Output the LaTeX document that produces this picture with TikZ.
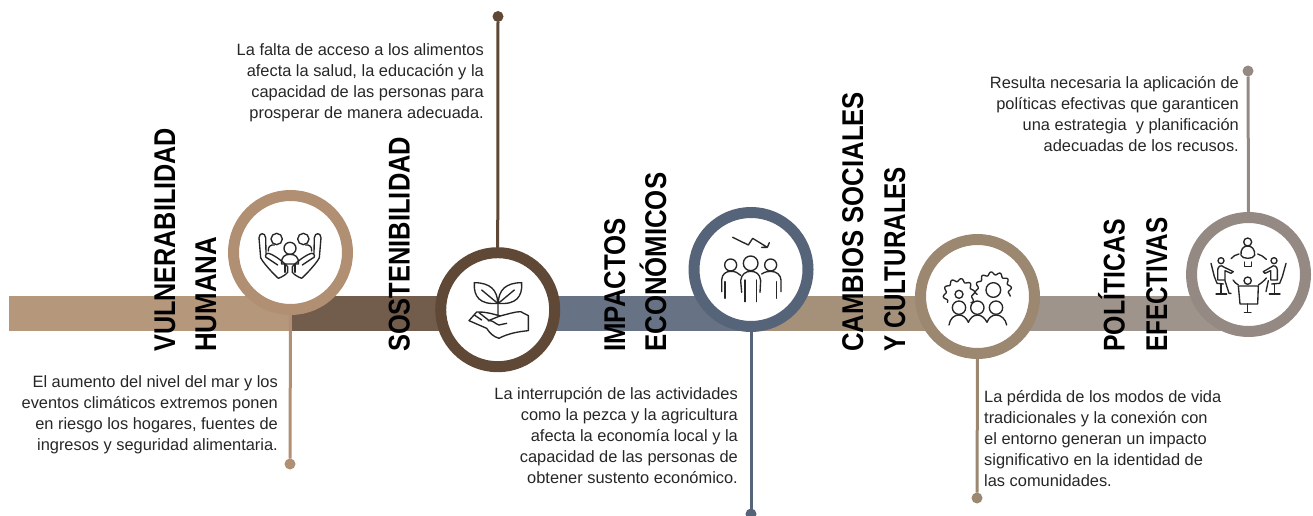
\documentclass[tikz,border=0pt]{standalone}
\usepackage{fontspec}
\setmainfont{Liberation Sans}
\newfontfamily\headf[FakeStretch=0.84]{Liberation Sans Bold}
\definecolor{ringa}{HTML}{B08F72}
\definecolor{ringb}{HTML}{5F4835}
\definecolor{ringc}{HTML}{56647A}
\definecolor{ringd}{HTML}{9C8770}
\definecolor{ringe}{HTML}{958A83}
\definecolor{banda}{HTML}{B5977C}
\definecolor{bandb}{HTML}{725D4C}
\definecolor{bandc}{HTML}{687285}
\definecolor{bandd}{HTML}{A59079}
\definecolor{bande}{HTML}{9F948C}
\definecolor{icon}{HTML}{262626}
\tikzset{
  ring/.style={circle,draw=#1,line width=11pt,fill=white,minimum size=114pt,inner sep=0pt,outer sep=0pt},
  enddot/.style={circle,fill=#1,minimum size=11pt,inner sep=0pt,outer sep=0pt},
  conn/.style={draw=#1,line width=3pt},
  bandseg/.style={fill=#1,draw=none},
  head/.style={rotate=90,anchor=base west,inner sep=0pt,font=\headf\fontsize{30}{30}\selectfont,text=black},
  bodyr/.style={align=right,anchor=north east,inner sep=0pt,font=\fontsize{16.4}{21}\selectfont,text=black!85},
  bodyl/.style={align=left,anchor=north west,inner sep=0pt,font=\fontsize{16.4}{21}\selectfont,text=black!85},
  ic/.style={draw=icon,line width=1.35pt,line cap=round,line join=round},
  icn/.style={x=0.3333pt,y=-0.3333pt},
}
\begin{document}
\begin{tikzpicture}[x=1pt,y=-1pt]
\useasboundingbox (0,0) rectangle (1313,516);
% bands
\fill[bandseg=banda] (8.5,296) rectangle (290,331);
\fill[bandseg=bandb] (290,296) rectangle (498,331);
\fill[bandseg=bandc] (498,296) rectangle (751,331);
\fill[bandseg=bandd] (751,296) rectangle (977,331);
\fill[bandseg=bande] (977,296) rectangle (1248,331);
% headings
\node[head] (h1a) at (175,352) {VULNERABILIDAD};
\node[head] (h1b) at (216,352) {\scalebox{1.027}[1]{HUMANA}};
\node[head] (h2a) at (409.5,352) {\scalebox{1.01}[1]{SOSTENIBILIDAD}};
\node[head] (h3a) at (625,352) {\scalebox{1.023}[1]{IMPACTOS}};
\node[head] (h3b) at (666,352) {\scalebox{1.023}[1]{ECONÓMICOS}};
\node[head] (h4a) at (863,352) {\scalebox{1.02}[1]{CAMBIOS SOCIALES}};
\node[head] (h4b) at (905,352) {\scalebox{0.959}[1]{Y CULTURALES}};
\node[head] (h5a) at (1124.5,352) {\scalebox{0.985}[1]{POLÍTICAS}};
\node[head] (h5b) at (1167,352) {\scalebox{0.964}[1]{EFECTIVAS}};
% rings
\node[ring=ringa] (c1) at (290.5,252.5) {};
\node[ring=ringb] (c2) at (497.7,309.7) {};
\node[ring=ringc] (c3) at (751,269.5) {};
\node[ring=ringd] (c4) at (977.5,296.5) {};
\node[ring=ringe] (c5) at (1248.5,274.5) {};
% end dots and connectors
\node[enddot=ringa] (d1) at (290,464) {};
\node[enddot=ringb] (d2) at (498,16.5) {};
\node[enddot=ringc] (d3) at (751,514) {};
\node[enddot=ringd] (d4) at (977,498) {};
\node[enddot=ringe] (d5) at (1248,71) {};
\draw[conn=ringa] (c1.south) -- (d1);
\draw[conn=ringb] (c2.north) -- (d2);
\draw[conn=ringc] (c3.south) -- (d3);
\draw[conn=ringd] (c4.south) -- (d4);
\draw[conn=ringe] (c5.north) -- (d5);
% body texts
\node[bodyr] (t1) at (278,375.5) {El aumento del nivel del mar y los\\eventos climáticos extremos ponen\\en riesgo los hogares, fuentes de\\ingresos y seguridad alimentaria.};
\node[bodyr] (t2) at (484,43.5) {La falta de acceso a los alimentos\\afecta la salud, la educación y la\\capacidad de las personas para\\prosperar de manera adecuada.};
\node[bodyr] (t3) at (738,387.5) {La interrupción de las actividades\\como la pezca y la agricultura\\afecta la economía local y la\\capacidad de las personas de\\obtener sustento económico.};
\node[bodyl] (t4) at (984,390.5) {La pérdida de los modos de vida\\tradicionales y la conexión con\\el entorno generan un impacto\\significativo en la identidad de\\las comunidades.};
\node[bodyr] (t5) at (1239,76.5) {Resulta necesaria la aplicación de\\políticas efectivas que garanticen\\una estrategia\ \ y planificación\\adecuadas de los recusos.};
% icon 1: family in hands
\begin{scope}[shift={(245,215)},icn]
\draw[ic] (95,72) circle (17) (175,72) circle (17) (135,100) circle (18);
\draw[ic] (110,147) .. controls (108,125) and (120,118) .. (135,118) .. controls (150,118) and (162,125) .. (160,147) -- cycle;
\draw[ic] (70,108) .. controls (68,95) and (78,88) .. (88,90) (200,108) .. controls (202,95) and (192,88) .. (182,90);
\draw[ic] (120,147) -- (120,172) (150,147) -- (150,172);
\foreach \m/\o in {1/0,-1/270}{
\begin{scope}[shift={(\o,0)},x=\m*0.3333pt]
\draw[ic] (63,115) -- (62,68) .. controls (60,52) and (43,52) .. (42,68) -- (47,128) .. controls (52,140) and (80,172) .. (100,190) .. controls (110,186) and (122,180) .. (128,172) -- (128,155) .. controls (115,140) and (85,118) .. (70,115) .. controls (60,115) and (58,128) .. (68,130) -- (98,150);
\end{scope}}
\end{scope}
% icon 2: plant in hand
\begin{scope}[shift={(455,270)},icn]
\draw[ic] (128,100) .. controls (128,60) and (105,38) .. (58,38) .. controls (55,80) and (75,105) .. cycle;
\draw[ic] (130,100) .. controls (130,60) and (153,38) .. (200,38) .. controls (203,80) and (183,105) .. cycle;
\draw[ic] (80,60) -- (128,100) (178,60) -- (130,100) (129,100) -- (129,138);
\draw[ic] (95,175) -- (42,152) -- (65,126) .. controls (85,125) and (110,130) .. (135,138) .. controls (160,132) and (180,125) .. (197,125) -- (220,137) -- (220,182) .. controls (190,185) and (160,190) .. (132,205) .. controls (115,200) and (105,190) .. (95,175);
\draw[ic] (100,152) .. controls (115,150) and (120,162) .. (132,165) -- (155,160);
\draw[ic] (100,152) -- (135,138) (58,135) -- (80,150) (72,128) -- (100,150);
\end{scope}
% icon 3: people under falling arrow
\begin{scope}[shift={(710,230)},icn]
\draw[ic] (68,22) -- (115,45) -- (128,25) -- (172,52) (178,38) -- (172,52) -- (155,52);
\draw[ic] (62,105) circle (18) (122,100) circle (22) (182,105) circle (18);
\draw[ic] (35,185) -- (35,150) .. controls (36,132) and (48,124) .. (62,124) .. controls (75,124) and (85,128) .. (92,136);
\draw[ic] (95,187) -- (92,152) .. controls (94,132) and (108,124) .. (122,124) .. controls (138,124) and (150,132) .. (152,152) -- (150,187);
\draw[ic] (155,132) .. controls (165,125) and (175,124) .. (182,124) .. controls (200,124) and (212,135) .. (213,150) -- (213,185);
\draw[ic] (45,155) -- (45,205) (105,150) -- (105,215) (140,150) -- (140,215) (200,155) -- (200,205);
\end{scope}
% icon 4: gears and people
\begin{scope}[shift={(935,265)},icn]
\draw[ic,domain=-35:215,samples=140,smooth] plot ({72+(43+4.5*sin(10*\x))*cos(\x)},{88-(43+4.5*sin(10*\x))*sin(\x)});
\draw[ic,domain=-20:195,samples=140,smooth] plot ({175+(50+4.5*sin(12*\x))*cos(\x)},{75-(50+4.5*sin(12*\x))*sin(\x)});
\draw[ic] (72,88) circle (12) (175,75) circle (22);
\draw[ic] (72,128) circle (20) (127,128) circle (20) (183,128) circle (20);
\draw[ic] (42,180) .. controls (45,160) and (58,150) .. (72,150) .. controls (85,150) and (95,160) .. (100,172) .. controls (105,160) and (115,150) .. (127,150) .. controls (140,150) and (150,160) .. (156,172) .. controls (160,160) and (170,150) .. (183,150) .. controls (198,150) and (212,162) .. (215,180);
\end{scope}
% icon 5: meeting at a table
\begin{scope}[shift={(1205,230)},icn]
\draw[ic] (128,36) circle (12) (48,92) circle (9) (207,92) circle (9) (128,152) circle (11);
\draw[ic] (108,76) .. controls (106,58) and (115,48) .. (128,48) .. controls (141,48) and (150,58) .. (149,76) .. controls (145,88) and (112,88) .. (108,76);
\draw[ic] (118,96) -- (118,110) -- (140,110) -- (140,96);
\draw[ic] (78,86) .. controls (85,78) and (92,74) .. (102,72) (158,72) .. controls (168,75) and (176,80) .. (184,88);
\draw[ic] (84,150) .. controls (88,156) and (94,162) .. (100,165) (160,165) .. controls (168,160) and (178,152) .. (184,144);
\draw[ic] (38,150) -- (38,120) .. controls (38,110) and (48,102) .. (58,112) -- (85,125) -- (78,130) -- (60,122) -- (60,150) -- (38,150);
\draw[ic] (60,152) -- (72,190) -- (78,190);
\draw[ic] (18,100) -- (28,140) -- (36,160) -- (55,162);
\draw[ic] (48,162) -- (48,190) (33,192) -- (65,192);
\draw[ic] (217,150) -- (217,120) .. controls (217,110) and (207,102) .. (197,112) -- (175,125) -- (180,130) -- (197,122) -- (197,150) -- (217,150);
\draw[ic] (190,152) -- (183,185);
\draw[ic] (243,100) -- (232,140) -- (224,160) -- (200,162);
\draw[ic] (209,162) -- (209,190) (193,192) -- (225,192);
\draw[ic] (100,168) -- (160,168) -- (158,222) -- (105,222) -- cycle;
\draw[ic] (128,222) -- (128,246) (118,248) -- (138,248);
\end{scope}
\end{tikzpicture}
\end{document}
